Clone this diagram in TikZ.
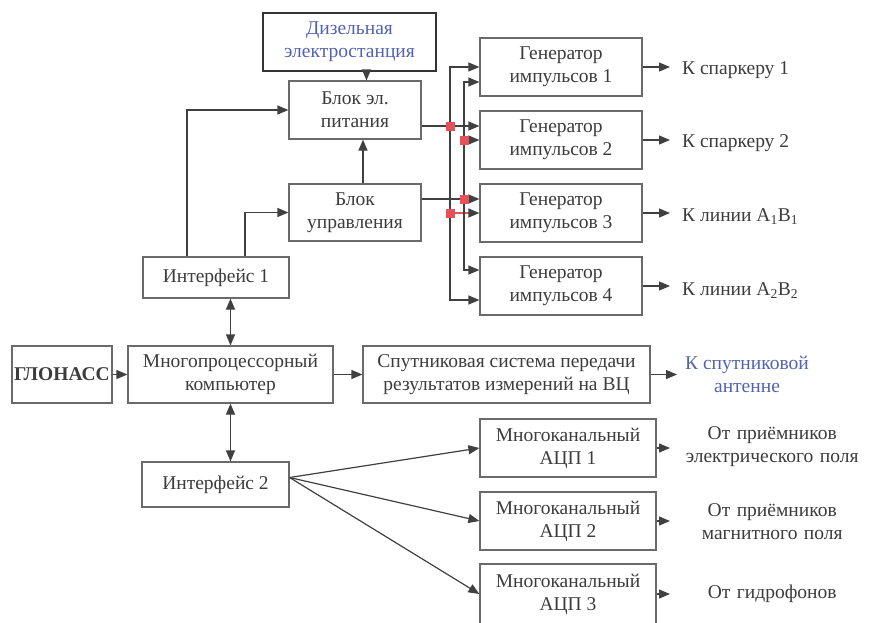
\documentclass[tikz,border=0pt]{standalone}
\usepackage{fontspec}
\setmainfont{Liberation Serif}
\usetikzlibrary{arrows.meta}
\definecolor{linegray}{HTML}{404040}
\definecolor{boxgray}{HTML}{6A6A6A}
\definecolor{textgray}{HTML}{3C3C3C}
\definecolor{textblue}{HTML}{5262B0}
\definecolor{junred}{HTML}{E8505A}
\tikzstyle{box} = [draw=boxgray,line width=1.2pt,text=textgray,align=center,inner sep=0pt,minimum height=58pt]
\tikzstyle{arrow} = [-{Triangle[length=11pt,width=9pt]},draw=linegray,line width=1.2pt]
\tikzstyle{redarrow} = [-{Triangle[length=11pt,width=9pt,color=linegray]},draw=junred,line width=1.2pt]
\tikzstyle{dblarrow} = [{Triangle[length=11pt,width=9pt]}-{Triangle[length=11pt,width=9pt]},draw=linegray,line width=1.2pt]
\tikzstyle{outtext} = [anchor=west,inner xsep=12pt,text=textgray]
\tikzstyle{junction} = [fill=junred,minimum size=9pt,inner sep=0pt]

\begin{document}
\begin{tikzpicture}[x=1pt,y=-1pt,font=\fontsize{19.5}{23}\selectfont]
          \useasboundingbox (0,0) rectangle (875,622);
          \node[box,draw=black!80,line width=1.8pt,text=textblue,minimum width=173pt] (diesel) at (349.5,42) {Дизельная\\электростанция};
          \node[box,minimum width=132pt] (power) at (355,110) {Блок эл.\\питания};
          \node[box,minimum width=132pt,minimum height=57pt] (ctrl) at (355,212.5) {Блок\\управления};
          \node[box,minimum width=162pt] (gen1) at (561,67) {Генератор\\импульсов 1};
          \node[box,minimum width=162pt] (gen2) at (561,140) {Генератор\\импульсов 2};
          \node[box,minimum width=162pt] (gen3) at (561,213) {Генератор\\импульсов 3};
          \node[box,minimum width=162pt] (gen4) at (561,286) {Генератор\\импульсов 4};
          \node[box,minimum width=146pt,minimum height=41pt] (if1) at (216,277.5) {Интерфейс 1};
          \node[box,minimum width=100pt,minimum height=57pt] (glonass) at (62,374.5) {\bfseries ГЛОНАСС};
          \node[box,minimum width=205pt,minimum height=57pt] (comp) at (230.5,374.5) {Многопроцессорный\\компьютер};
          \node[box,minimum width=287pt,minimum height=57pt] (sat) at (506.5,374.5) {Спутниковая система передачи\\результатов измерений на ВЦ};
          \node[box,minimum width=147pt,minimum height=45pt] (if2) at (215.5,484.5) {Интерфейс 2};
          \node[box,minimum width=176pt] (adc1) at (568,448) {Многоканальный\\АЦП 1};
          \node[box,minimum width=176pt] (adc2) at (568,521) {Многоканальный\\АЦП 2};
          \node[box,minimum width=176pt,minimum height=60pt] (adc3) at (568,594) {Многоканальный\\АЦП 3};

          \node[outtext] (out1) at (670,70) {К спаркеру 1};
          \node[outtext] (out2) at (670,143) {К спаркеру 2};
          \node[outtext] (out3) at (670,217) {К линии A\textsubscript{1}B\textsubscript{1}};
          \node[outtext] (out4) at (670,291) {К линии A\textsubscript{2}B\textsubscript{2}};
          \node[outtext,inner xsep=8pt,text=textblue,align=center] (ant) at (677,374) {К спутниковой\\антенне};
          \node[outtext,inner xsep=4pt,text width=196pt,align=center] (src1) at (670,447) {От приёмников\\электрического поля};
          \node[outtext,inner xsep=4pt,text width=196pt,align=center] (src2) at (670,521.5) {От приёмников\\магнитного поля};
          \node[outtext,inner xsep=4pt,text width=196pt,align=center] (src3) at (670,594) {От гидрофонов};

          \draw[arrow] ([xshift=17pt]diesel.south) -- ([xshift=11.5pt]power.north);
          \draw[arrow] ([xshift=8pt]ctrl.north) -- ([xshift=8pt]power.south);
          \draw[arrow] ([xshift=-29pt]if1.north) |- (power.west);
          \draw[arrow] ([xshift=29pt]if1.north) |- (ctrl.west);
          \draw[dblarrow] (if1.south -| comp.north) -- (comp.north);
          \draw[arrow] (glonass) -- (comp);
          \draw[arrow] (comp) -- (sat);
          \draw[arrow] (sat.east) -- (sat.east -| ant.west);
          \draw[dblarrow] (comp.south) -- (comp.south |- if2.north);
          \foreach \n in {1,2,3} \draw[arrow] ([yshift=7pt]if2.east) -- (adc\n.west);
          \foreach \n in {1,2,3} \draw[arrow] (adc\n.east) -- (adc\n.east -| src\n.west);
          \foreach \n in {1,...,4} \draw[arrow] (gen\n.east) -- (gen\n.east -| out\n.west);

          \coordinate (pa) at (450,126);
          \coordinate (pb) at (450,213);
          \coordinate (ca) at (464,199);
          \coordinate (cb) at (464,140);
          \draw[arrow] (power.east |- pa) -- (pa -| gen2.west);
          \draw[arrow] (pa) |- (gen1.west);
          \draw[arrow] (pa) |- ([yshift=-14pt]gen4.west);
          \draw[redarrow] (pb) -- (pb -| gen3.west);
          \draw[arrow] (ctrl.east |- ca) -- (ca -| gen3.west);
          \draw[arrow] (ca) |- ([yshift=-15pt]gen1.west);
          \draw[arrow] (ca) |- ([yshift=16pt]gen4.west);
          \draw[arrow] (cb) -- (cb -| gen2.west);
          \node[junction] (ja) at (pa) {};
          \node[junction] (jb) at (pb) {};
          \node[junction] (jc) at (ca) {};
          \node[junction] (jd) at (cb) {};
        \end{tikzpicture}
\end{document}
